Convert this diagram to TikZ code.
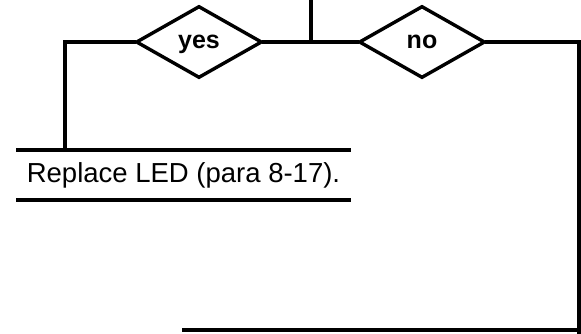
\documentclass[tikz,border=0pt]{standalone}
\usepackage{fontspec}
\setmainfont{Liberation Sans}
\usetikzlibrary{shapes.geometric}
\begin{document}
\begin{tikzpicture}[x=1pt,y=-1pt,
  conn/.style={line width=3.4pt,line cap=rect},
  bar/.style={line width=4.4pt},
  decision/.style={diamond,draw,line width=3.4pt,minimum width=126pt,minimum height=72pt,inner sep=0pt,text height=12.5pt,text depth=0pt,font=\fontsize{25}{26}\selectfont\bfseries},
  label/.style={inner sep=0pt,font=\fontsize{27.5}{28}\selectfont}]
\useasboundingbox (0,0) rectangle (581,333);
\node[decision] (yes) at (199,42) {yes};
\node[decision] (no) at (422,42) {no};
\coordinate (top) at (311,0);
\coordinate (junc) at (311,42);
\coordinate (lcorner) at (65,42);
\coordinate (lbot) at (65,150);
\coordinate (rcorner) at (579,42);
\coordinate (rbot) at (579,333);
\coordinate (bl) at (182,330);
\coordinate (br) at (579,330);
\node[label,anchor=base] (act) at (183.5,182) {Replace LED (para 8-17).};
\coordinate (b1l) at (16,150);
\coordinate (b1r) at (351,150);
\coordinate (b2l) at (16,200);
\coordinate (b2r) at (351,200);
\draw[conn] (top) -- (junc);
\draw[conn] (yes.east) -- (no.west);
\draw[conn] (yes.west) -- (lcorner) -- (lbot);
\draw[conn] (no.east) -- (rcorner) -- (rbot);
\draw[bar] (bl) -- (br);
\draw[bar] (b1l) -- (b1r);
\draw[bar] (b2l) -- (b2r);
\end{tikzpicture}
\end{document}
